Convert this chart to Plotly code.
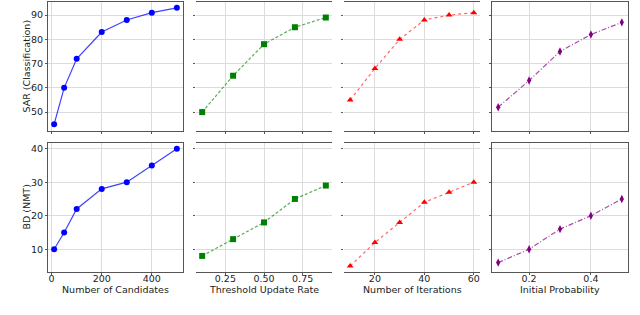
import plotly.graph_objects as go

# ---- data ----
cand_x = [10, 50, 100, 200, 300, 400, 500]
cand_sar = [45, 60, 72, 83, 88, 91, 93]
cand_bd = [10, 15, 22, 28, 30, 35, 40]

thr_x = [0.1, 0.3, 0.5, 0.7, 0.9]
thr_sar = [50, 65, 78, 85, 89]
thr_bd = [8, 13, 18, 25, 29]

iter_x = [10, 20, 30, 40, 50, 60]
iter_sar = [55, 68, 80, 88, 90, 91]
iter_bd = [5, 12, 18, 24, 27, 30]

prob_x = [0.1, 0.2, 0.3, 0.4, 0.5]
prob_sar = [52, 63, 75, 82, 87]
prob_bd = [6, 10, 16, 20, 25]

x_titles = ["Number of Candidates", "Threshold Update Rate", "Number of Iterations", "Initial Probability"]
y_titles = ["SAR (Classification)", "BD (NMT)"]

W, H = 640, 315
FONT = "DejaVu Sans"
TICK_SIZE = 9.5
TITLE_SIZE = 9.5

cols = [
    dict(x=cand_x, sar=cand_sar, bd=cand_bd, color="#0000ff", line="rgba(0,0,255,0.75)", dash="solid", sym="circle", size=6,
         rng=[-14.5, 524.5], tickvals=[0, 200, 400], ticktext=["0", "200", "400"]),
    dict(x=thr_x, sar=thr_sar, bd=thr_bd, color="#008000", line="rgba(0,128,0,0.65)", dash="3px,2px", sym="square", size=6,
         rng=[0.06, 0.94], tickvals=[0.25, 0.5, 0.75], ticktext=["0.25", "0.50", "0.75"]),
    dict(x=iter_x, sar=iter_sar, bd=iter_bd, color="#ff0000", line="rgba(255,0,0,0.6)", dash="dot", sym="triangle-up", size=6,
         rng=[7.5, 62.5], tickvals=[20, 40, 60], ticktext=["20", "40", "60"]),
    dict(x=prob_x, sar=prob_sar, bd=prob_bd, color="#800080", line="rgba(128,0,128,0.7)", dash="5px,2px,1px,2px", sym="diamond-tall", size=6,
         rng=[0.08, 0.52], tickvals=[0.2, 0.4], ticktext=["0.2", "0.4"]),
]

xdom = [(48, 183), (196, 332), (344, 480), (492, 628)]
ydom = [(2, 131), (143, 272)]
yr = [[42.2, 95.4], [3.2, 41.7]]
yticks = [[50, 60, 70, 80, 90], [10, 20, 30, 40]]

fig = go.Figure()
layout = {}
GRID = "#dcdcdc"
SPINE = "#555555"
for r in range(2):
    for c in range(4):
        idx = r * 4 + c + 1
        xa = "x" if idx == 1 else f"x{idx}"
        ya = "y" if idx == 1 else f"y{idx}"
        cd = cols[c]
        yv = cd["sar"] if r == 0 else cd["bd"]
        fig.add_trace(go.Scatter(
            x=cd["x"], y=yv, xaxis=xa, yaxis=ya, mode="lines+markers",
            line=dict(color=cd["line"], width=1.2, dash=cd["dash"]),
            marker=dict(color=cd["color"], symbol=cd["sym"], size=cd["size"], line=dict(width=0)),
            showlegend=False, cliponaxis=False, hoverinfo="skip"))
        full_box = c in (0, 3)
        layout["xaxis" + ("" if idx == 1 else str(idx))] = dict(
            domain=[xdom[c][0] / W, xdom[c][1] / W], anchor=ya, automargin=False,
            range=cd["rng"], tickvals=cd["tickvals"], ticktext=cd["ticktext"],
            showticklabels=(r == 1), ticks="outside", ticklen=2, tickcolor=SPINE,
            ticklabelstandoff=-4,
            showgrid=True, gridcolor=GRID, gridwidth=1, zeroline=False,
            showline=True, linecolor=SPINE, linewidth=1, mirror=True,
            tickfont=dict(family=FONT, size=TICK_SIZE, color="#222222"))
        layout["yaxis" + ("" if idx == 1 else str(idx))] = dict(
            domain=[1 - ydom[r][1] / H, 1 - ydom[r][0] / H], anchor=xa, automargin=False,
            range=yr[r], tickvals=yticks[r], showticklabels=(c == 0),
            ticks="outside", ticklen=2, tickcolor=SPINE,
            showgrid=True, gridcolor=GRID, gridwidth=1, zeroline=False,
            showline=full_box, linecolor=SPINE, linewidth=1, mirror=full_box,
            tickfont=dict(family=FONT, size=TICK_SIZE, color="#222222"))

annotations = []
for c in range(4):
    annotations.append(dict(text=x_titles[c], x=(xdom[c][0] + xdom[c][1]) / 2 / W, y=1 - 289 / H,
                            xref="paper", yref="paper", showarrow=False,
                            font=dict(family=FONT, size=TITLE_SIZE, color="#222222"), xanchor="center", yanchor="middle"))
for r in range(2):
    annotations.append(dict(text=y_titles[r], x=26 / W, y=1 - (ydom[r][0] + ydom[r][1]) / 2 / H,
                            xref="paper", yref="paper", showarrow=False, textangle=-90,
                            font=dict(family=FONT, size=TITLE_SIZE, color="#222222"), xanchor="center", yanchor="middle"))

fig.update_layout(**layout)
fig.update_layout(width=W, height=H, margin=dict(l=0, r=0, t=0, b=0),
                  paper_bgcolor="white", plot_bgcolor="white", annotations=annotations,
                  hovermode=False)
fig.write_html("out.html", config={"displayModeBar": False},
               post_script="document.body.style.margin='0';")
